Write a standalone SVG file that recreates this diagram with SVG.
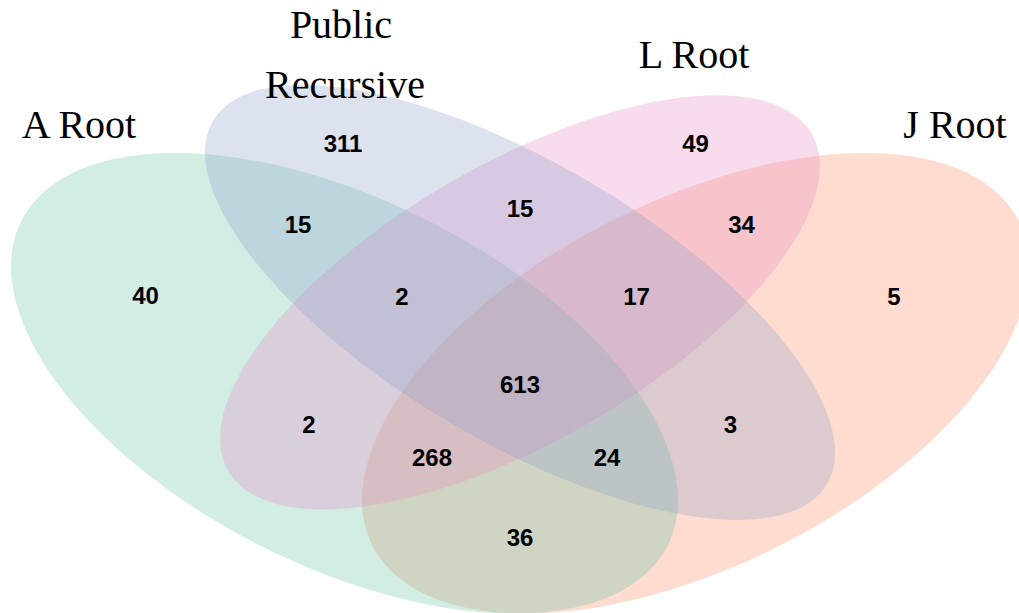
<svg xmlns="http://www.w3.org/2000/svg" width="1019" height="613" viewBox="0 0 1019 613">
<style>
.set{stroke:none;opacity:0.3}
.title{font-family:"Liberation Serif","Times New Roman",serif;font-size:40px;fill:#000;text-anchor:middle}
.num{font-family:"Liberation Sans",Arial,Helvetica,sans-serif;font-size:24px;font-weight:bold;fill:#000;text-anchor:middle}
</style>
<rect width="1019" height="613" fill="#ffffff"/>
<g id="set-j-root">
<ellipse class="set" fill="#FC8D62" cx="0" cy="0" rx="0.35" ry="0.2" transform="translate(695.5 383.24) scale(1170 -808) rotate(45)"/>
</g>
<g id="set-a-root">
<ellipse class="set" fill="#66C2A5" cx="0" cy="0" rx="0.35" ry="0.2" transform="translate(344.5 383.24) scale(1170 -808) rotate(135)"/>
</g>
<g id="set-l-root">
<ellipse class="set" fill="#E78AC3" cx="0" cy="0" rx="0.33" ry="0.15" transform="translate(520 302.44) scale(1170 -808) rotate(45)"/>
</g>
<g id="set-public-recursive">
<ellipse class="set" fill="#8DA0CB" cx="0" cy="0" rx="0.35" ry="0.15" transform="translate(520 302.44) scale(1170 -808) rotate(135)"/>
</g>
<g id="titles">
<text class="title" x="79" y="138">A Root</text>
<text class="title" x="341" y="38">Public</text>
<text class="title" x="345" y="98">Recursive</text>
<text class="title" x="694" y="68">L Root</text>
<text class="title" x="955" y="138">J Root</text>
</g>
<g id="counts">
<text class="num" x="343" y="152">311</text>
<text class="num" x="695.5" y="152">49</text>
<text class="num" x="298" y="233">15</text>
<text class="num" x="520" y="217">15</text>
<text class="num" x="741.5" y="233">34</text>
<text class="num" x="145.5" y="304">40</text>
<text class="num" x="402" y="305">2</text>
<text class="num" x="636.5" y="305">17</text>
<text class="num" x="894" y="305">5</text>
<text class="num" x="520" y="393">613</text>
<text class="num" x="309" y="433">2</text>
<text class="num" x="730.5" y="433">3</text>
<text class="num" x="432" y="466">268</text>
<text class="num" x="607" y="466">24</text>
<text class="num" x="520" y="546">36</text>
</g>
<g id="connectors"></g>
</svg>
